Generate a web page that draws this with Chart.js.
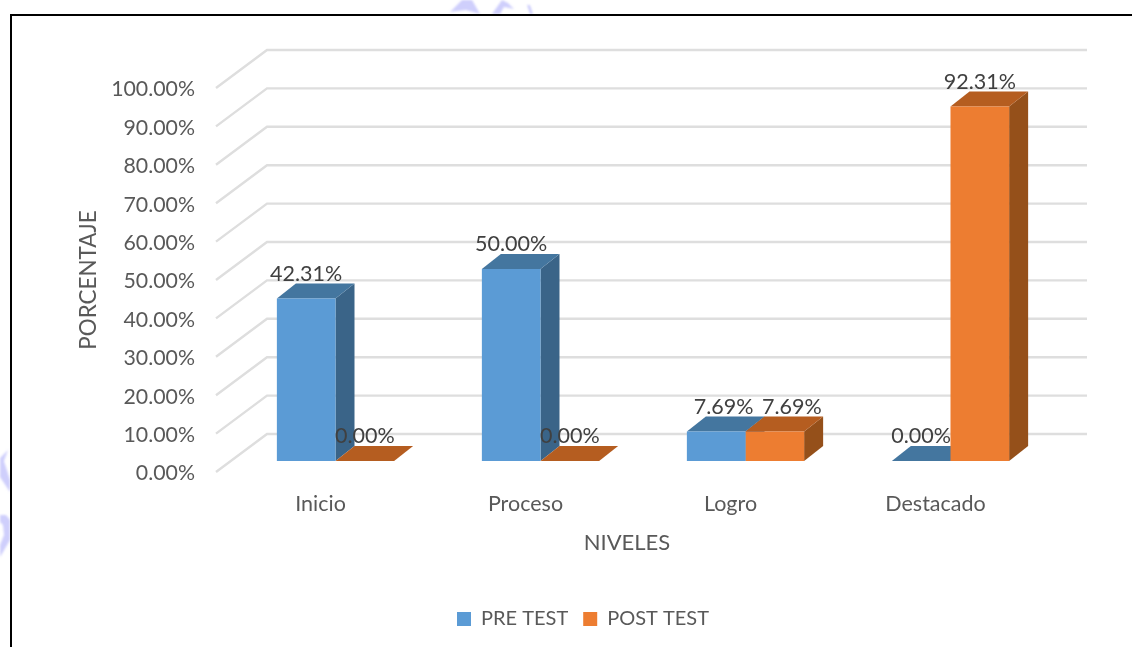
<!DOCTYPE html>
<html>
<head>
<meta charset="utf-8">
<script src="https://cdn.jsdelivr.net/npm/chart.js@4/dist/chart.umd.min.js"></script>
<style>
html,body{margin:0;padding:0;background:#fff;overflow:hidden}
#wrap{position:relative;width:1132px;height:647px}
#frame{position:absolute;left:10px;top:14px;width:1122px;height:633px;border-left:2px solid #000;border-top:2px solid #000;box-sizing:border-box;pointer-events:none}
#mark{position:absolute;left:0;top:0}
canvas{position:absolute;left:0;top:0}
</style>
</head>
<body>
<div id="wrap">
<svg id="mark" width="1132" height="647" xmlns="http://www.w3.org/2000/svg">
  <defs><filter id="b"><feGaussianBlur stdDeviation="1"/></filter></defs>
  <g fill="#CFCFFC" filter="url(#b)">
    <path d="M450 12 L462 0 L472 0 L480 14 L466 10 Z"/>
    <path d="M492 14 L502 0 L508 3 L514 9 L504 7 L500 14 Z"/>
    <path d="M527 5 L530 5 L533 14 L530 14 Z"/>
    <path d="M0 458 L8 450 L4 461 L10 480 L10 492 L0 477 Z"/>
    <path d="M0 515 L6 515 L10 520 L10 540 L3 552 L0 557 L0 545 L4 535 L3 525 L0 522 Z"/>
  </g>
</svg>
<canvas id="c" width="1132" height="647"></canvas><div id="frame"></div></div>
<script>
const categories = ['Inicio', 'Proceso', 'Logro', 'Destacado'];
const preTest = [42.31, 50.00, 7.69, 0.00];
const postTest = [0.00, 0.00, 7.69, 92.31];
const seriesNames = ['PRE TEST', 'POST TEST'];
const FONT = 'Lato';

const faces = [
  {front:'#5B9BD5', top:'#44769F', side:'#3A6488'},
  {front:'#ED7D31', top:'#B55D20', side:'#95501A'}
];

const threeD = {
  id:'threeD',
  afterLayout(chart){
    chart.scales.x.left -= 32;
    chart.scales.y.top += 22;
    chart.legend.left += 19; chart.legend.right += 19;
  },
  beforeDatasetsDraw(chart){
    const {ctx, scales:{y}, chartArea:a} = chart;
    ctx.save();
    ctx.strokeStyle = '#DEDEDE'; ctx.lineWidth = 2.4;
    const zero = y.getPixelForValue(0);
    y.ticks.forEach(t=>{
      const py = y.getPixelForValue(t.value);
      ctx.beginPath();
      ctx.moveTo(a.left-17, py+11);
      ctx.lineTo(a.left+34, py-27);
      ctx.lineTo(a.right+34, py-27);
      ctx.stroke();
    });
    const dx=19, dy=15;
    chart.data.datasets.forEach((ds,i)=>{
      const c = faces[i];
      chart.getDatasetMeta(i).data.forEach(b=>{
        const l=b.x-b.width/2, r=b.x+b.width/2, t=b.y;
        ctx.fillStyle=c.side;
        ctx.beginPath();ctx.moveTo(r,t);ctx.lineTo(r+dx,t-dy);ctx.lineTo(r+dx,zero-dy);ctx.lineTo(r,zero);ctx.closePath();
        if(zero-t>0.5) ctx.fill();
        ctx.fillStyle=c.top;
        ctx.beginPath();ctx.moveTo(l,t);ctx.lineTo(l+dx,t-dy);ctx.lineTo(r+dx,t-dy);ctx.lineTo(r,t);ctx.closePath();ctx.fill();
      });
    });
    ctx.restore();
  },
  afterDatasetsDraw(chart){
    const {ctx} = chart;
    ctx.save();
    ctx.font = '21.5px '+FONT; ctx.fillStyle='#404040';
    ctx.textAlign='center'; ctx.textBaseline='middle';
    chart.data.datasets.forEach((ds,i)=>{
      chart.getDatasetMeta(i).data.forEach((b,j)=>{
        let nudge = 0;
        if (j===2) nudge = i===0 ? 7.5 : 17;
        ctx.fillText(ds.data[j].toFixed(2)+'%', b.x+nudge, b.y-24.5);
      });
    });
    ctx.restore();
  }
};

new Chart(document.getElementById('c'),{
  type:'bar',
  data:{labels:categories,datasets:[
    {label:seriesNames[0],data:preTest,backgroundColor:faces[0].front,categoryPercentage:0.572,barPercentage:1},
    {label:seriesNames[1],data:postTest,backgroundColor:faces[1].front,categoryPercentage:0.572,barPercentage:1}
  ]},
  options:{
    responsive:false,animation:false,
    layout:{padding:{left:75,right:79,top:77,bottom:8}},
    plugins:{
      tooltip:{enabled:false},
      title:{display:false},
      legend:{position:'bottom',labels:{boxWidth:14,boxHeight:14,color:'#595959',font:{family:FONT,size:20},padding:15}}
    },
    scales:{
      x:{
        afterFit(s){s.height=133;},
        grid:{display:false,drawTicks:false},border:{display:false},
        ticks:{color:'#595959',font:{family:FONT,size:21.5},padding:30,maxRotation:0,labelOffset:-15},
        title:{display:true,text:'NIVELES',color:'#595959',font:{family:FONT,size:22},padding:{top:0,bottom:38}}
      },
      y:{
        min:0,max:100,
        afterFit(s){s.width=158;},
        grid:{display:false,drawTicks:false},border:{display:false},
        ticks:{stepSize:10,color:'#595959',font:{family:FONT,size:21.3},padding:38,labelOffset:12.5,autoSkip:false,callback:v=>v.toFixed(2)+'%'},
        title:{display:true,text:'PORCENTAJE',color:'#595959',font:{family:FONT,size:22.4},padding:0}
      }
    }
  },
  plugins:[threeD]
});
</script>
</body>
</html>
